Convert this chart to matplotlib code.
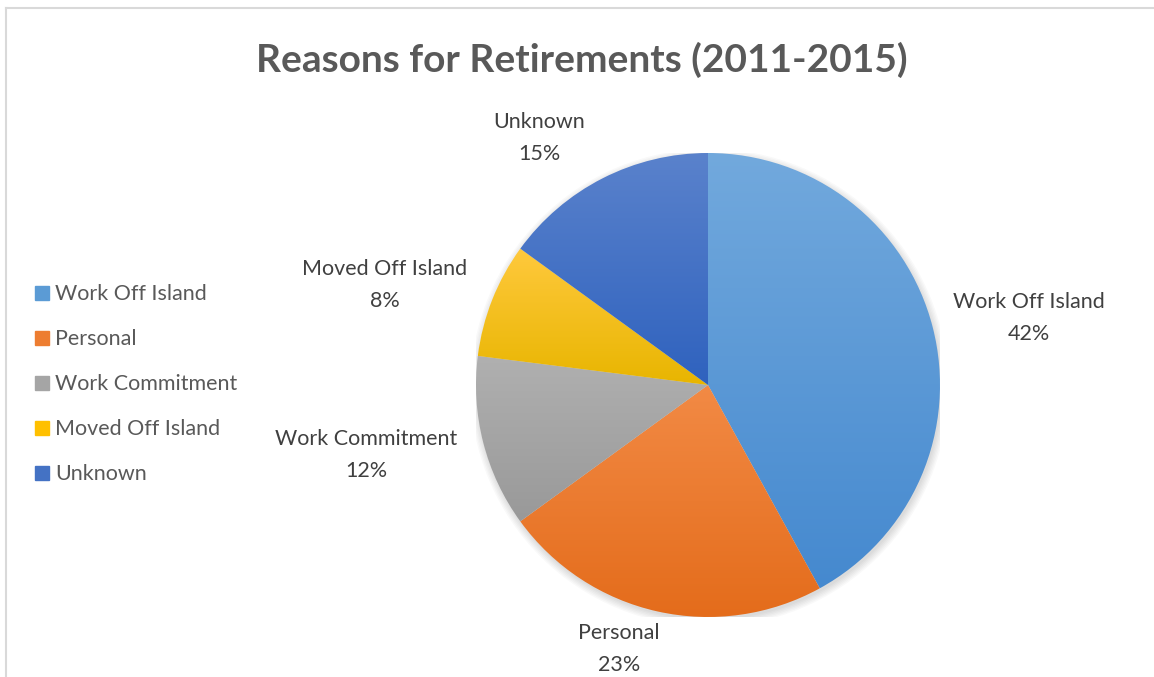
import numpy as np
import matplotlib
matplotlib.use('Agg')
import matplotlib.pyplot as plt
from matplotlib.colors import LinearSegmentedColormap
from matplotlib.patches import Rectangle, Circle
from matplotlib.lines import Line2D

plt.rcParams['font.family'] = ['Lato', 'DejaVu Sans']

# datos del grafico
categorias = ['Work Off Island', 'Personal', 'Work Commitment', 'Moved Off Island', 'Unknown']
porcentajes = [42, 23, 12, 8, 15]
colores = ['#5B9BD5', '#ED7D31', '#A5A5A5', '#FFC000', '#4472C4']
titulo = 'Reasons for Retirements (2011-2015)'

# degradado de cada sector (arriba claro, abajo oscuro)
arriba = ['#72A9DD', '#F28A45', '#B0B0B0', '#FFC93D', '#5A82CC']
abajo = ['#4589CF', '#E46C1B', '#999999', '#E8B500', '#2F62BE']

# posiciones de las etiquetas (en radios del pie)
pos_etiquetas = [(1.384, 0.287), (-0.384, -1.140), (-1.474, -0.303), (-1.392, 0.430), (-0.728, 1.063)]

W, H = 1154, 677
fig = plt.figure(figsize=(W / 100, H / 100), dpi=100)

# marco gris claro (solo arriba e izquierda se ven)
fig.add_artist(Line2D([6 / W, 6 / W], [0, 1 - 8 / H], color='#d9d9d9', lw=1.5, transform=fig.transFigure))
fig.add_artist(Line2D([6 / W, 1], [1 - 8 / H, 1 - 8 / H], color='#d9d9d9', lw=1.5, transform=fig.transFigure))

cx, cy, r = 708, 385, 232
ax = fig.add_axes([(cx - r) / W, (H - cy - r) / H, 2 * r / W, 2 * r / H])

# sombra suave
for k in range(6):
    ax.add_patch(Circle((0.006, -0.012), 1.0 + 0.006 * k, color='black', alpha=0.025, lw=0, zorder=0))

wedges, _ = ax.pie(porcentajes, colors=colores, startangle=90, counterclock=False,
                   radius=1, wedgeprops=dict(linewidth=0))

for w, c1, c2 in zip(wedges, arriba, abajo):
    ext = w.get_path().get_extents()
    cmap = LinearSegmentedColormap.from_list('g', [c2, c1])
    grad = np.linspace(0, 1, 256).reshape(-1, 1)
    im = ax.imshow(grad, cmap=cmap, origin='lower', aspect='auto',
                   extent=[ext.x0, ext.x1, ext.y0, ext.y1], zorder=2)
    im.set_clip_path(w)
    w.set_alpha(0)

ax.set_xlim(-1, 1)
ax.set_ylim(-1, 1)
ax.set_aspect('equal')
ax.axis('off')

for (x, y), cat, p in zip(pos_etiquetas, categorias, porcentajes):
    ax.text(x, y, f'{cat}\n{p}%', ha='center', va='center', fontsize=15.5,
            color='#404040', linespacing=1.75, clip_on=False)

fig.text(582 / W, 1 - 60 / H, titulo, ha='center', va='center', fontsize=28,
         fontweight='bold', color='#595959')

# leyenda
ys = [293, 338, 383, 428, 473]
for y, cat, c in zip(ys, categorias, colores):
    fig.add_artist(Rectangle((35 / W, 1 - (y + 7) / H), 14 / W, 14 / H, color=c,
                             transform=fig.transFigure))
    fig.text(55 / W, 1 - (y + 1) / H, cat, ha='left', va='center', fontsize=15.5, color='#595959')

fig.savefig('out.png', dpi=100)
